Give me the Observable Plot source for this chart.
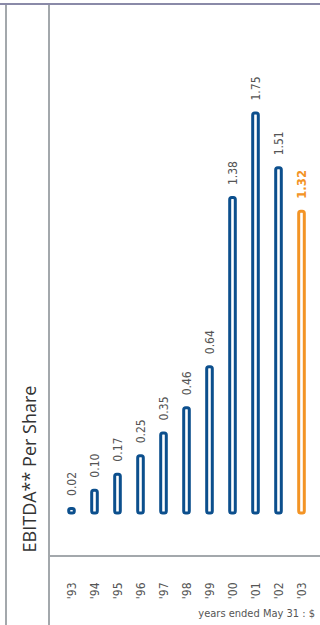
<!DOCTYPE html>
<html>
<head>
<meta charset="utf-8">
<script src="https://cdn.jsdelivr.net/npm/d3@7"></script>
<script src="https://cdn.jsdelivr.net/npm/@observablehq/plot@0.6"></script>
<style>
  html, body { margin: 0; padding: 0; background: #fff; }
  #wrap { position: relative; width: 320px; height: 625px; overflow: hidden; background: #fff; }
  .hl { position: absolute; }
  #title { position: absolute; left: 29px; top: 469px; transform: translate(-50%, -50%) rotate(-90deg);
    white-space: nowrap; font-family: "Open Sans", "Noto Sans", sans-serif; font-size: 18px; color: #333; }
  #caption { position: absolute; right: 5px; top: 607px; white-space: nowrap;
    font-family: "Liberation Sans Narrow", "DejaVu Sans Condensed", sans-serif; font-stretch: condensed;
    font-size: 11px; color: #555; }
  #chart { position: absolute; left: 0; top: 0; }
</style>
</head>
<body>
<div id="wrap">
  <div class="hl" style="left:0;top:3px;width:320px;height:2px;background:#8a8aa8;"></div>
  <div class="hl" style="left:5px;top:5px;width:2px;height:620px;background:#a3a8ac;"></div>
  <div class="hl" style="left:48px;top:5px;width:2px;height:620px;background:#a3a8ac;"></div>
  <div class="hl" style="left:49px;top:555px;width:271px;height:2px;background:#a3a8ac;"></div>
  <div id="title">EBITDA** Per Share</div>
  <div id="chart"></div>
  <div id="caption">years ended May 31 : $</div>
</div>
<script>
const years = ["'93", "'94", "'95", "'96", "'97", "'98", "'99", "'00", "'01", "'02", "'03"];
const values = [0.02, 0.10, 0.17, 0.25, 0.35, 0.46, 0.64, 1.38, 1.75, 1.51, 1.32];
const highlightYear = "'03";

const blue = "#0c4f8d";
const orange = "#f39425";
const narrow = "'Liberation Sans Narrow', 'DejaVu Sans Condensed', sans-serif";

const data = years.map((year, i) => ({year, value: values[i]}));
const normal = data.filter(d => d.year !== highlightYear);
const hi = data.filter(d => d.year === highlightYear);

const chart = Plot.plot({
  width: 320,
  height: 625,
  marginLeft: 55,
  marginRight: 3,
  marginTop: 113,
  marginBottom: 112,
  x: {domain: years, padding: 0, axis: null},
  y: {domain: [0, 1.75], axis: null},
  style: {background: "transparent", overflow: "visible", fontFamily: narrow},
  marks: [
    Plot.barY(normal, {x: "year", y: "value", fill: "white", stroke: blue, strokeWidth: 3, insetLeft: 8.7, insetRight: 8.7, rx: 2}),
    Plot.barY(hi, {x: "year", y: "value", fill: "white", stroke: orange, strokeWidth: 3, insetLeft: 8.7, insetRight: 8.7, rx: 2}),
    Plot.text(normal, {x: "year", y: "value", text: d => d.value.toFixed(2), rotate: -90, textAnchor: "start", lineAnchor: "middle", dy: -13, fill: "#555", fontSize: 12, fontFamily: narrow}),
    Plot.text(hi, {x: "year", y: "value", text: d => d.value.toFixed(2), rotate: -90, textAnchor: "start", lineAnchor: "middle", dy: -13, fill: orange, fontSize: 13, fontWeight: "bold", fontFamily: narrow}),
    Plot.axisX({domain: years, tickSize: 0, tickPadding: 69, tickRotate: -90, textAnchor: "end", lineAnchor: "middle", fontSize: 12, fill: "#555", fontFamily: narrow, label: null})
  ]
});
document.getElementById("chart").appendChild(chart);
</script>
</body>
</html>
